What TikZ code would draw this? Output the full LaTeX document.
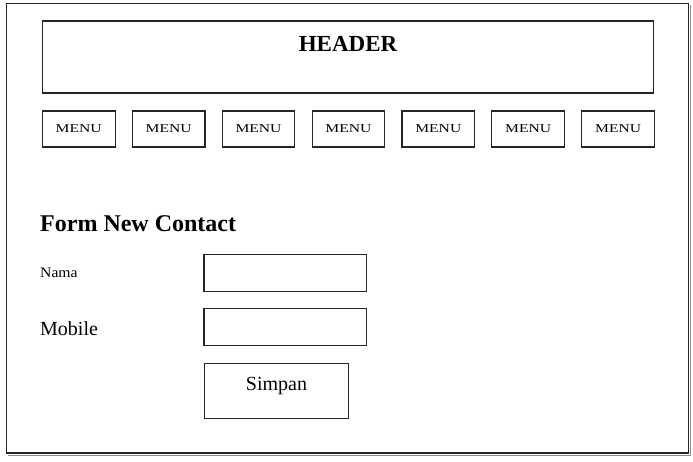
\documentclass[tikz,border=0pt]{standalone}
\usepackage{fontspec}
\setmainfont{Liberation Serif}
\usetikzlibrary{positioning}
\tikzset{
  box/.style={draw=black!85, line width=1.1pt, rectangle, inner sep=0pt},
  menubox/.style={box, minimum width=72.7pt, minimum height=36pt,
    font=\fontsize{12}{14}\selectfont},
  field/.style={box, minimum width=162.7pt, minimum height=36.3pt},
}
\begin{document}
\begin{tikzpicture}[x=1pt, y=-1pt]
  \useasboundingbox (0,0) rectangle (693,462);
  % page frame with a faint shadow
  \draw[black!45, line width=1pt] (690,5) -- (690,455) -- (8,455);
  \node[box, minimum width=682pt, minimum height=449.5pt] (page) at (347.5,228.25) {};
  % header
  \node[box, minimum width=611pt, minimum height=72pt] (header) at (348,57) {};
  \node[font=\fontsize{23}{27}\selectfont\bfseries, anchor=base, yshift=-30.9pt] (headertext) at (header.north) {HEADER};
  % menu bar
  \foreach \i in {0,...,6}
    \node[menubox] (menu\i) at (78.7+89.9*\i,129) {\raisebox{1.5pt}{\scalebox{1.3}[1]{MENU}}};
  % form
  \node[font=\fontsize{24}{28}\selectfont\bfseries, anchor=base west, inner sep=0pt] (formtitle) at (40,231.7) {Form New Contact};
  \node[font=\fontsize{14.5}{17}\selectfont, anchor=base west, inner sep=0pt] (nama) at (40,277) {\scalebox{1.08}[1]{Nama}};
  \node[font=\fontsize{20}{24}\selectfont, anchor=base west, inner sep=0pt] (mobile) at (40,335) {Mobile};
  \node[field] (namafield) at (285.3,273) {};
  \node[field] (mobilefield) at (285.3,327) {};
  \node[box, minimum width=144.7pt, minimum height=55pt] (simpan) at (276.5,390.8) {};
  \node[font=\fontsize{20}{24}\selectfont, anchor=base, yshift=-27.4pt, inner sep=0pt] (simpantext) at (simpan.north) {Simpan};
\end{tikzpicture}
\end{document}
